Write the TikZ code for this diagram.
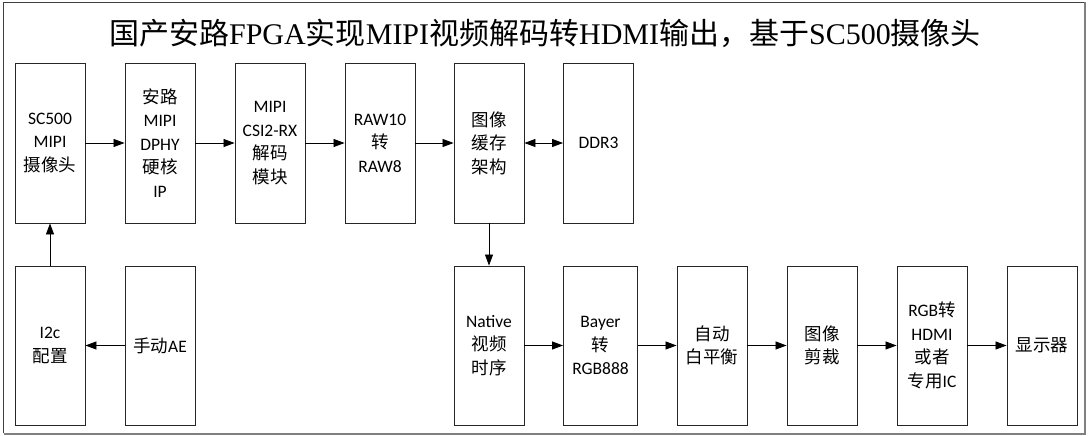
\documentclass[tikz,border=0pt]{standalone}
\usepackage{fontspec}
\setmainfont{Carlito}
\newfontfamily\cjk{Noto Sans CJK SC}
\newfontfamily\tserif{Liberation Serif}
\usetikzlibrary{arrows.meta}
\newcommand{\zh}[1]{{\cjk #1}}
\begin{document}
\begin{tikzpicture}[x=1pt,y=-1pt,
  blk/.style={draw=black!85,line width=0.9pt,minimum width=70pt,minimum height=160pt,inner sep=0pt,
    align=center,font=\fontsize{17.5}{23.5}\selectfont},
  conn/.style={draw=black,line width=0.8pt,-{Triangle[length=11pt,width=8pt]}},
  dconn/.style={draw=black,line width=0.8pt,{Triangle[length=11pt,width=8pt]}-{Triangle[length=11pt,width=8pt]}}]
\useasboundingbox (0,0) rectangle (1088,436);
\fill[white] (0,0) rectangle (1088,436);
% outer frame
\draw[black!75,line width=0.8pt] (3.5,433) -- (3.5,2.5) -- (1084,2.5);
\draw[black!50,line width=2pt] (3.5,434) -- (1084.5,434) -- (1084.5,2.5);
% title
\node (title) at (545,33) {\fontsize{30}{34}\selectfont\zh{国产安路}{\tserif FPGA}\zh{实现}{\tserif MIPI}\zh{视频解码转}{\tserif HDMI}\zh{输出，基于}{\tserif SC500}\zh{摄像头}};
% top row
\node[blk] (cam) at (50,143) {SC500\\MIPI\\\zh{摄像头}};
\node[blk] (dphy) at (160,143) {\zh{安路}\\MIPI\\DPHY\\\zh{硬核}\\IP};
\node[blk] (csi) at (270,143) {MIPI\\CSI2-RX\\\zh{解码}\\\zh{模块}};
\node[blk] (raw) at (380,143) {RAW10\\\zh{转}\\RAW8};
\node[blk] (buf) at (489,143) {\zh{图像}\\\zh{缓存}\\\zh{架构}};
\node[blk] (ddr) at (598.5,143) {DDR3};
% bottom row
\node[blk,minimum height=159pt] (i2c) at (50,345.5) {I2c\\\zh{配置}};
\node[blk,minimum height=159pt] (ae) at (160,345.5) {\zh{手动}AE};
\node[blk,minimum height=159pt] (nat) at (489,345.5) {Native\\\zh{视频}\\\zh{时序}};
\node[blk,minimum height=159pt,minimum width=74pt] (bay) at (600.5,345.5) {Bayer\\\zh{转}\\RGB888};
\node[blk,minimum height=159pt] (awb) at (712,345.5) {\zh{自动}\\\zh{白平衡}};
\node[blk,minimum height=159pt] (crop) at (822,345.5) {\zh{图像}\\\zh{剪裁}};
\node[blk,minimum height=159pt] (hdmi) at (932,345.5) {RGB\zh{转}\\HDMI\\\zh{或者}\\\zh{专用}IC};
\node[blk,minimum height=159pt] (disp) at (1042,345.5) {\zh{显示器}};
% connectors
\draw[conn] (cam) -- (dphy);
\draw[conn] (dphy) -- (csi);
\draw[conn] (csi) -- (raw);
\draw[conn] (raw) -- (buf);
\draw[dconn] (buf) -- (ddr);
\draw[conn] (buf) -- (nat);
\draw[conn] (nat) -- (bay);
\draw[conn] (bay) -- (awb);
\draw[conn] (awb) -- (crop);
\draw[conn] (crop) -- (hdmi);
\draw[conn] (hdmi) -- (disp);
\draw[conn] (ae) -- (i2c);
\draw[conn] (i2c) -- (cam);
\end{tikzpicture}
\end{document}
